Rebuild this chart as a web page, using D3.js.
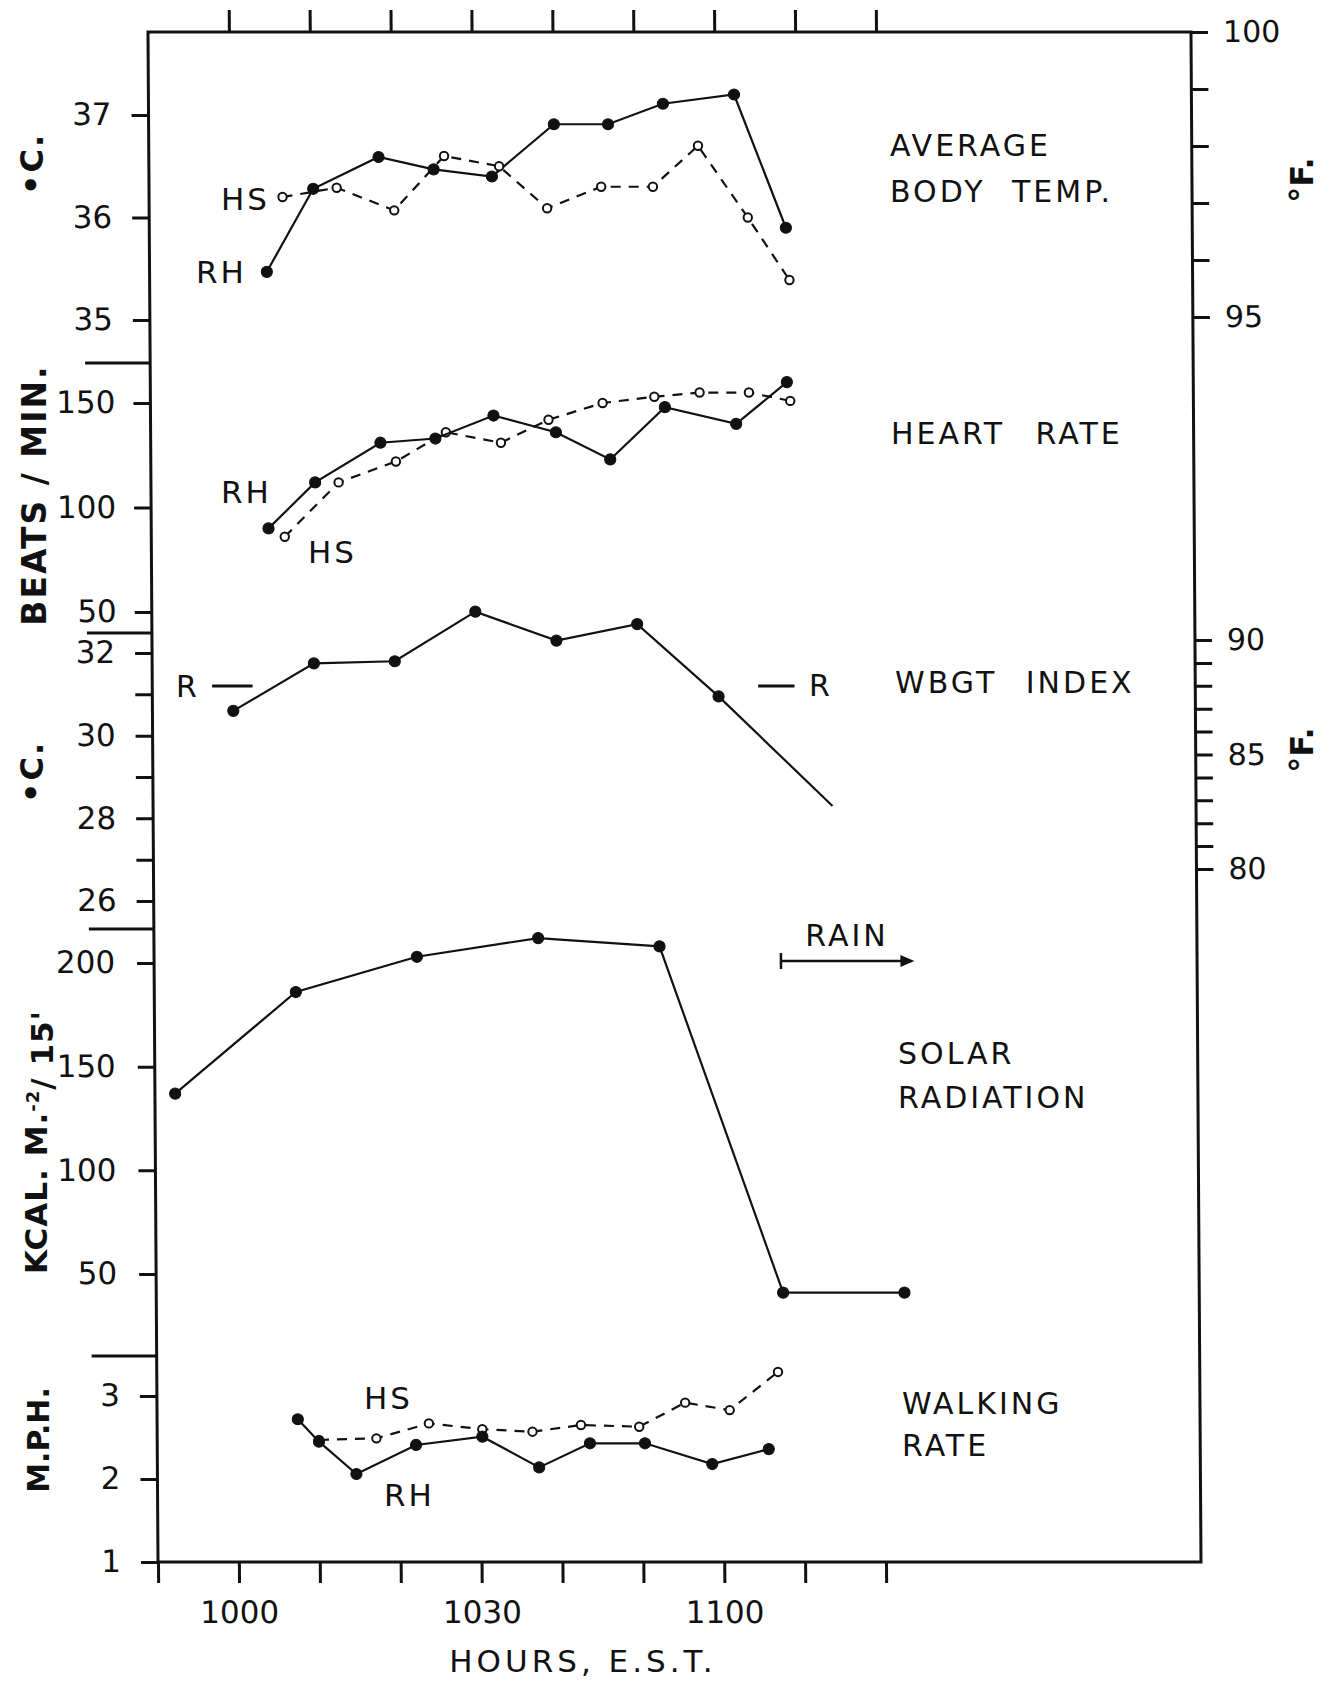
<!DOCTYPE html>
<html>
<head>
<meta charset="utf-8">
<script src="https://cdn.jsdelivr.net/npm/d3@7"></script>
<style>
  html, body { margin: 0; padding: 0; background: #fff; }
  svg { display: block; }
  text { font-family: "DejaVu Sans", sans-serif; fill: #111; }
</style>
</head>
<body>
<svg id="chart" width="1325" height="1683"></svg>
<script>
// ---- Data (times are minutes after 10:00 EST) ----
const rhTimes      = [4.5, 10.3, 18.4, 25.2, 32.4, 40.1, 46.8, 53.6, 62.4, 68.7];
const hsTimes      = [6.5, 13.2, 20.3, 26.5, 33.3, 39.2, 45.9, 52.3, 57.9, 64.0, 69.1];
const bodyTempRH   = [35.47, 36.28, 36.59, 36.47, 36.40, 36.91, 36.91, 37.11, 37.20, 35.90];
const bodyTempHS   = [36.20, 36.29, 36.07, 36.60, 36.50, 36.09, 36.30, 36.30, 36.70, 36.00, 35.39];
const heartRateRH  = [90, 112, 131, 133, 144, 136, 123, 148, 140, 160];
const heartRateHS  = [86, 112, 122, 136, 131, 142, 150, 153, 155, 155, 151];
const wbgtTimes    = [0, 10, 20, 30, 40, 50, 60];
const wbgtValues   = [30.6, 31.75, 31.8, 33.0, 32.3, 32.7, 30.95];
const wbgtTrail    = [60, 74];          // unmarked continuation after 1100
const wbgtTrailVal = [30.95, 28.3];
const wbgtR        = 31.2;              // "R" reference level
const wbgtRSpans   = [[-2.6, 2.4], [64.9, 69.4]];
const solarTimes   = [-7.5, 7.5, 22.5, 37.5, 52.5, 67.5, 82.5];
const solarValues  = [137, 186, 203, 212, 208, 41, 41];
const rainSpan     = [67.5, 84];
const walkTimesRH  = [7.4, 10.0, 14.6, 22.0, 30.2, 37.2, 43.5, 50.3, 58.6, 65.6];
const walkRH       = [2.72, 2.45, 2.06, 2.41, 2.51, 2.14, 2.43, 2.43, 2.18, 2.36];
const walkTimesHS  = [10.0, 17.1, 23.6, 30.2, 36.4, 42.4, 49.6, 55.3, 60.8, 66.8];
const walkHS       = [2.47, 2.49, 2.67, 2.60, 2.57, 2.65, 2.63, 2.92, 2.83, 3.29];

// ---- Tick sets ----
const timeTicks        = [-10, 0, 10, 20, 30, 40, 50, 60, 70, 80];
const timeLabelTicks   = [0, 30, 60];
const timeLabels       = ["1000", "1030", "1100"];
const tempCTicks       = [35, 36, 37];
const tempFTicks       = [95, 96, 97, 98, 99, 100];
const tempFLabelled    = [95, 100];
const hrTicks          = [50, 100, 150];
const wbgtCTicks       = [26, 27, 28, 29, 30, 31, 32];
const wbgtCLabelled    = [26, 28, 30, 32];
const wbgtFTicks       = [80, 81, 82, 83, 84, 85, 86, 87, 88, 89, 90];
const wbgtFLabelled    = [80, 85, 90];
const solarTicks       = [50, 100, 150, 200];
const walkTicks        = [1, 2, 3];

// ---- Layout ----
const frame = { left: 158, right: 1201, top: 32, bottom: 1562 };
const panelBreaks = [363, 633, 929, 1356];
const ink = "#111";

const svg = d3.select("#chart");
svg.append("rect").attr("width", 1325).attr("height", 1683).attr("fill", "#fff");

const x = d3.scaleLinear().domain([-10, 80]).range([frame.left, 886]);
const yTempC = d3.scaleLinear().domain([35, 37]).range([320, 115]);
const yTempF = d3.scaleLinear().domain([95, 100]).range([317, 32]);
const yHR    = d3.scaleLinear().domain([50, 150]).range([612, 403]);
const yWbgtC = d3.scaleLinear().domain([26, 32]).range([901, 653]);
const yWbgtF = d3.scaleLinear().domain([80, 90]).range([869, 640]);
const ySolar = d3.scaleLinear().domain([50, 200]).range([1274, 963]);
const yWalk  = d3.scaleLinear().domain([1, 3]).range([frame.bottom, 1396]);

// the drawing sheet leans slightly to the left toward the top
const g = svg.append("g")
  .attr("transform", `translate(0,${frame.bottom}) skewX(0.375) translate(0,${-frame.bottom})`);

// frame
g.append("path")
  .attr("d", `M${frame.left},${frame.bottom}V${frame.top}H${frame.right}V${frame.bottom}H${frame.left}`)
  .attr("fill", "none").attr("stroke", ink).attr("stroke-width", 3);

// panel separators on the left
g.selectAll("line.sep").data(panelBreaks).join("line")
  .attr("x1", frame.left - 65).attr("x2", frame.left)
  .attr("y1", d => d).attr("y2", d => d)
  .attr("stroke", ink).attr("stroke-width", 3);

function styleAxis(sel, fontSize) {
  sel.select(".domain").remove();
  sel.selectAll(".tick line").attr("stroke", ink).attr("stroke-width", 3);
  sel.selectAll(".tick text")
    .attr("fill", ink)
    .style("font-family", '"DejaVu Sans", sans-serif')
    .style("font-size", fontSize + "px");
}

function leftAxis(scale, ticks, labelled, pad) {
  const a = d3.axisLeft(scale).tickValues(ticks).tickSize(17).tickPadding(pad)
    .tickFormat(d => labelled.includes(d) ? String(d) : "");
  g.append("g").attr("transform", `translate(${frame.left},0)`).call(a).call(s => styleAxis(s, 31));
}
function rightAxis(scale, ticks, labelled) {
  const a = d3.axisRight(scale).tickValues(ticks).tickSize(17).tickPadding(15)
    .tickFormat(d => labelled.includes(d) ? String(d) : "");
  g.append("g").attr("transform", `translate(${frame.right},0)`).call(a).call(s => styleAxis(s, 30));
}

leftAxis(yTempC, tempCTicks, tempCTicks, 20);
leftAxis(yHR, hrTicks, hrTicks, 18);
leftAxis(yWbgtC, wbgtCTicks, wbgtCLabelled, 20);
leftAxis(ySolar, solarTicks, solarTicks, 22);
leftAxis(yWalk, walkTicks, walkTicks, 20);
rightAxis(yTempF, tempFTicks, tempFLabelled);
rightAxis(yWbgtF, wbgtFTicks, wbgtFLabelled);

// time axes
g.append("g").attr("transform", `translate(0,${frame.top})`)
  .call(d3.axisTop(x).tickValues(timeTicks.filter(t => t > -10)).tickSize(22).tickFormat(""))
  .call(s => styleAxis(s, 31));
g.append("g").attr("transform", `translate(0,${frame.bottom})`)
  .call(d3.axisBottom(x).tickValues(timeTicks).tickSize(21).tickPadding(18)
    .tickFormat(d => { const i = timeLabelTicks.indexOf(d); return i >= 0 ? timeLabels[i] : ""; }))
  .call(s => styleAxis(s, 31));

// ---- series ----
function series(times, values, yScale, opts) {
  const pts = times.map((t, i) => ({ t, v: values[i] }));
  const line = d3.line().x(d => x(d.t)).y(d => yScale(d.v));
  g.append("path").datum(pts).attr("d", line)
    .attr("fill", "none").attr("stroke", ink)
    .attr("stroke-width", 2.2)
    .attr("stroke-dasharray", opts.dashed ? "10,8" : null);
  if (opts.noMarks) return;
  g.append("g").selectAll("circle").data(pts).join("circle")
    .attr("cx", d => x(d.t)).attr("cy", d => yScale(d.v))
    .attr("r", opts.open ? 4.2 : 5.6)
    .attr("fill", opts.open ? "#fff" : ink)
    .attr("stroke", ink).attr("stroke-width", opts.open ? 2 : 1);
}

series(rhTimes, bodyTempRH, yTempC, {});
series(hsTimes, bodyTempHS, yTempC, { dashed: true, open: true });
series(hsTimes, heartRateHS, yHR, { dashed: true, open: true });
series(rhTimes, heartRateRH, yHR, {});
series(wbgtTrail, wbgtTrailVal, yWbgtC, { noMarks: true });
series(wbgtTimes, wbgtValues, yWbgtC, {});
series(solarTimes, solarValues, ySolar, {});
series(walkTimesHS, walkHS, yWalk, { dashed: true, open: true });
series(walkTimesRH, walkRH, yWalk, {});

// R reference dashes
g.selectAll("line.rmark").data(wbgtRSpans).join("line")
  .attr("x1", d => x(d[0])).attr("x2", d => x(d[1]))
  .attr("y1", yWbgtC(wbgtR)).attr("y2", yWbgtC(wbgtR))
  .attr("stroke", ink).attr("stroke-width", 3);

// rain arrow
const rainY = ySolar(201);
g.append("line").attr("x1", x(rainSpan[0])).attr("x2", x(rainSpan[1]) - 10)
  .attr("y1", rainY).attr("y2", rainY).attr("stroke", ink).attr("stroke-width", 2.5);
g.append("line").attr("x1", x(rainSpan[0])).attr("x2", x(rainSpan[0]))
  .attr("y1", rainY - 8).attr("y2", rainY + 8).attr("stroke", ink).attr("stroke-width", 2.5);
g.append("path")
  .attr("d", `M${x(rainSpan[1])},${rainY}l-14,-6v12z`).attr("fill", ink);

// ---- text ----
function label(txt, px, py, opts = {}) {
  svg.append("text").attr("x", px).attr("y", py).attr("dy", "0.36em")
    .attr("text-anchor", opts.anchor || "start")
    .style("font-size", (opts.size || 30) + "px")
    .style("font-weight", opts.weight || "normal")
    .style("letter-spacing", (opts.ls ?? 3) + "px")
    .style("word-spacing", (opts.ws ?? 0) + "px")
    .text(txt);
}
function vlabel(txt, cx, cy, opts = {}) {
  return svg.append("text")
    .attr("transform", `translate(${cx},${cy}) rotate(-90)`)
    .attr("dy", "0.36em").attr("text-anchor", "middle")
    .style("font-size", (opts.size || 32) + "px")
    .style("font-weight", opts.weight || "bold")
    .style("letter-spacing", (opts.ls ?? 2) + "px")
    .text(txt);
}

// panel titles
label("AVERAGE", 890, 145);
label("BODY TEMP.", 890, 191, { ws: 14 });
label("HEART RATE", 891, 433, { ws: 18 });
label("WBGT INDEX", 895, 682, { ws: 16 });
label("SOLAR", 898, 1053);
label("RADIATION", 898, 1097);
label("WALKING", 902, 1403);
label("RATE", 902, 1445);
label("RAIN", 847, 935, { anchor: "middle" });

// series labels
label("HS", 221, 199, { size: 31 });
label("RH", 196, 272, { size: 31 });
label("RH", 221, 492, { size: 31 });
label("HS", 308, 552, { size: 31 });
label("R", 176, 686, { size: 30, ls: 0 });
label("R", 809, 685, { size: 30, ls: 0 });
label("HS", 364, 1398, { size: 31 });
label("RH", 384, 1495, { size: 31 });

// axis titles
vlabel("\u2022C.", 31, 164, { size: 32 });
vlabel("BEATS / MIN.", 34, 495, { size: 33 });
vlabel("\u2022C.", 31, 772, { size: 32 });
const kcal = vlabel("", 36, 1142, { size: 31, ls: 1 });
kcal.append("tspan").text("KCAL. M.");
kcal.append("tspan").attr("dy", "-0.45em").style("font-size", "18px").text("-2");
kcal.append("tspan").attr("dy", "0.45em").text("/ 15'");
vlabel("M.P.H.", 38, 1440, { size: 30, ls: 0 });
vlabel("\u00b0F.", 1301, 180, { size: 32, ls: 0 });
vlabel("\u00b0F.", 1301, 750, { size: 32, ls: 0 });

label("HOURS,  E.S.T.", 583, 1661, { size: 31, anchor: "middle", ls: 4 });
</script>
</body>
</html>
